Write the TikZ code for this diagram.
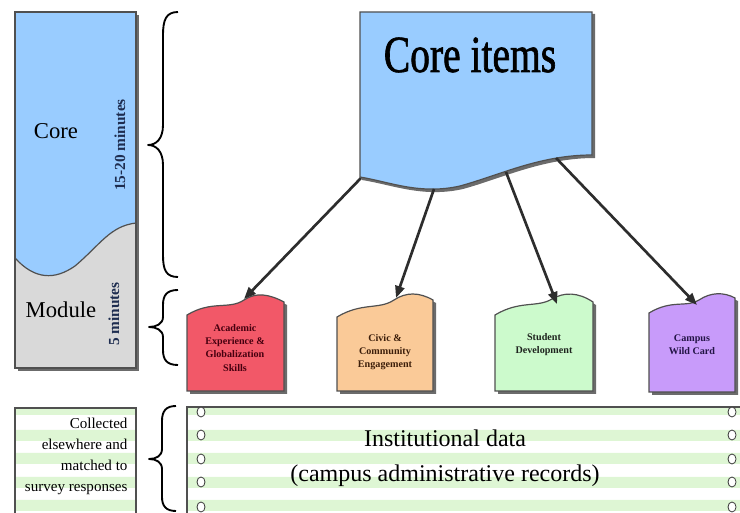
\documentclass[tikz,border=0pt]{standalone}
\usepackage{fontspec}
\setmainfont{Liberation Serif}
\newfontfamily\titlefont{Liberation Serif}[FakeStretch=0.76, FakeBold=1.2]
\usetikzlibrary{arrows.meta}

\tikzset{every picture/.style={line width=0.75pt}}
\tikzset{
  box/.style={draw={rgb, 255:red, 80; green, 80; blue, 80 }, line width=0.9pt},
  shadowfill/.style={fill={rgb, 255:red, 70; green, 70; blue, 70 }, fill opacity=0.8},
  curly/.style={line width=1.4pt, line join=round},
  link/.style={draw={rgb, 255:red, 45; green, 45; blue, 45 }, line width=2pt, -{Triangle[length=9pt, width=7pt]}},
  stripe/.style={fill={rgb, 255:red, 222; green, 246; blue, 212 }},
  hole/.style={draw={rgb, 255:red, 60; green, 60; blue, 60 }, line width=0.6pt, fill=white},
  modlabel/.style={font=\fontsize{7.6pt}{9.8pt}\selectfont\bfseries, align=center, inner sep=0.75pt},
  sidetime/.style={rotate=90, text={rgb, 255:red, 30; green, 45; blue, 80 }, font=\fontsize{11.5pt}{13pt}\selectfont\bfseries}
}

\begin{document}
\begin{tikzpicture}[x=0.75pt,y=0.75pt,yscale=-1,xscale=1]
\useasboundingbox (0,0) rectangle (740,513);

%Shadow: left column
\fill [shadowfill] (18,15) rectangle (139,371) ;
%Shape: Core part of left column
\fill [fill={rgb, 255:red, 153; green, 204; blue, 255 }] (15,12) -- (136,12) -- (136,223) .. controls (110,226) and (100,245) .. (75,266) .. controls (55,280) and (35,280) .. (15,258) -- cycle ;
%Shape: Module part of left column
\fill [fill={rgb, 255:red, 217; green, 217; blue, 217 }] (15,258) .. controls (35,280) and (55,280) .. (75,266) .. controls (100,245) and (110,226) .. (136,223) -- (136,368) -- (15,368) -- cycle ;
\draw [box] (15,258) .. controls (35,280) and (55,280) .. (75,266) .. controls (100,245) and (110,226) .. (136,223) ;
\draw [box] (15,12) rectangle (136,368) ;

% Text Node
\node (core) [font=\fontsize{17pt}{20pt}\selectfont] at (56,131) {Core};
% Text Node
\node (coretime) [sidetime] at (120,145) {15-20 minutes};
% Text Node
\node (module) [font=\fontsize{17pt}{20pt}\selectfont] at (61,310) {Module};
% Text Node
\node (moduletime) [sidetime] at (114,314) {5 minutes};

%Curly brackets
\draw [curly] (178,12) .. controls (166,12) and (163,20) .. (163,35) -- (163,125) .. controls (163,139) and (156,145) .. (148,145) .. controls (156,145) and (163,151) .. (163,165) -- (163,255) .. controls (163,270) and (166,277) .. (178,277) ;
\draw [curly] (178,290) .. controls (167,290) and (163,295) .. (163,305) -- (163,317) .. controls (163,324) and (156,327) .. (149,327) .. controls (156,327) and (163,330) .. (163,337) -- (163,350) .. controls (163,360) and (167,365) .. (178,365) ;
\draw [curly] (176,406) .. controls (166,406) and (162,411) .. (162,421) -- (162,449) .. controls (162,456) and (156,459) .. (149,459) .. controls (156,459) and (162,462) .. (162,469) -- (162,497) .. controls (162,506) and (166,511) .. (176,511) ;

%Shape: Core items
\fill [shadowfill] (362,14) -- (595,14) -- (595,158) .. controls (543,158) and (503,178) .. (463,189) .. controls (423,198) and (393,185) .. (362,180) -- cycle ;
\draw [box][fill={rgb, 255:red, 153; green, 204; blue, 255 }] (360,12) -- (592,12) -- (592,155) .. controls (540,155) and (500,175) .. (460,186) .. controls (420,195) and (390,182) .. (360,177) -- cycle ;
% Text Node
\node (coreitems) [font=\titlefont\fontsize{39pt}{42pt}\selectfont] at (470,55) {Core items};

%Shape: Academic box
\fill [shadowfill] (190,318) .. controls (215,303) and (232,313) .. (247,303) .. controls (259,295) and (272,297) .. (287,305) -- (287,394) -- (190,394) -- cycle ;
\draw [box][fill={rgb, 255:red, 242; green, 88; blue, 104 }] (187,315) .. controls (212,300) and (229,310) .. (244,300) .. controls (256,292) and (269,294) .. (284,302) -- (284,391) -- (187,391) -- cycle ;
% Text Node
\node (acad) [modlabel, text={rgb, 255:red, 70; green, 0; blue, 15 }] at (235,348) {Academic\\Experience \&\\Globalization\\Skills};

%Shape: Civic box
\fill [shadowfill] (340,320) .. controls (365,305) and (382,313) .. (397,303) .. controls (409,295) and (422,295) .. (436,303) -- (436,394) -- (340,394) -- cycle ;
\draw [box][fill={rgb, 255:red, 250; green, 202; blue, 152 }] (337,317) .. controls (362,302) and (379,310) .. (394,300) .. controls (406,292) and (419,292) .. (433,300) -- (433,391) -- (337,391) -- cycle ;
% Text Node
\node (civic) [modlabel, text={rgb, 255:red, 60; green, 30; blue, 10 }] at (385,352) {Civic \&\\Community\\Engagement};

%Shape: Student box
\fill [shadowfill] (498,318) .. controls (523,303) and (540,311) .. (555,302) .. controls (567,295) and (581,295) .. (596,305) -- (596,394) -- (498,394) -- cycle ;
\draw [box][fill={rgb, 255:red, 204; green, 250; blue, 204 }] (495,315) .. controls (520,300) and (537,308) .. (552,299) .. controls (564,292) and (578,292) .. (593,302) -- (593,391) -- (495,391) -- cycle ;
% Text Node
\node (student) [modlabel, text={rgb, 255:red, 30; green, 35; blue, 30 }] at (544,345) {Student\\Development};

%Shape: Wild card box
\fill [shadowfill] (652,316) .. controls (675,302) and (690,311) .. (702,303) .. controls (714,295) and (727,295) .. (738,301) -- (738,395) -- (652,395) -- cycle ;
\draw [box][fill={rgb, 255:red, 200; green, 155; blue, 250 }] (649,313) .. controls (672,299) and (687,308) .. (699,300) .. controls (711,292) and (724,292) .. (735,298) -- (735,392) -- (649,392) -- cycle ;
% Text Node
\node (wild) [modlabel, text={rgb, 255:red, 35; green, 20; blue, 70 }] at (692,345) {Campus\\Wild Card};

%Arrows from core items
\coordinate (c1) at (361,178) ;
\coordinate (c2) at (434,189) ;
\coordinate (c3) at (506,172) ;
\coordinate (c4) at (556,158) ;
\coordinate (m1) at (244,299) ;
\coordinate (m2) at (396,298) ;
\coordinate (m3) at (557,304) ;
\coordinate (m4) at (697,305) ;
\draw [link] (c1) -- (m1) ;
\draw [link] (c2) -- (m2) ;
\draw [link] (c3) -- (m3) ;
\draw [link] (c4) -- (m4) ;

%Shape: Collected box
\fill [white] (15,408) rectangle (136,515) ;
\fill [stripe] (15,408) rectangle (136,415) (15,430) rectangle (136,441) (15,453) rectangle (136,464) (15,477) rectangle (136,488) (15,500) rectangle (136,511) ;
\draw [box] (15,515) -- (15,408) -- (136,408) -- (136,515) ;
% Text Node
\node (collected) [anchor=east, align=right, inner sep=0.75pt, font=\fontsize{11.3pt}{15.8pt}\selectfont] at (129,456) {Collected\\elsewhere and\\matched to\\survey responses};

%Shape: Institutional data sheet
\fill [stripe] (187,408) rectangle (740,415) (187,430) rectangle (740,441) (187,453) rectangle (740,464) (187,477) rectangle (740,488) (187,500) rectangle (740,511) ;
\draw [box] (187,515) -- (187,407) -- (740,407) ;
\draw [hole] (201,412) ellipse (4 and 5) (201,435) ellipse (4 and 5) (201,459) ellipse (4 and 5) (201,482) ellipse (4 and 5) (201,507) ellipse (4 and 5) ;
\draw [hole] (732,412) ellipse (4 and 5) (732,435) ellipse (4 and 5) (732,459) ellipse (4 and 5) (732,482) ellipse (4 and 5) (732,507) ellipse (4 and 5) ;
% Text Node
\node (instdata) [align=center, inner sep=0.75pt, font=\fontsize{18pt}{26pt}\selectfont] at (445,458) {Institutional data\\(campus administrative records)};

\end{tikzpicture}
\end{document}
